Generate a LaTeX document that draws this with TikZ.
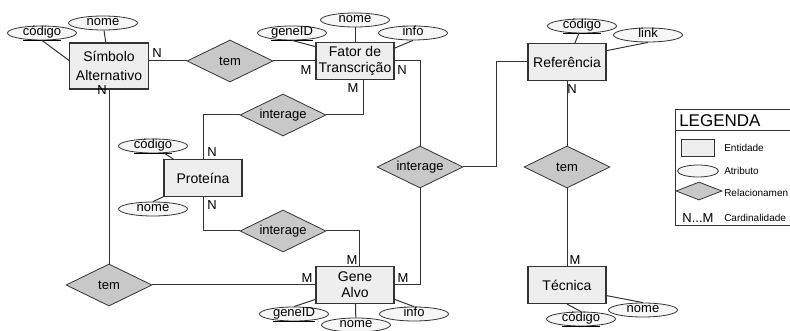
\documentclass[tikz,border=0pt]{standalone}
\usepackage{fontspec}
\setmainfont{Liberation Sans}
\usetikzlibrary{shapes.geometric}

\definecolor{entfill}{HTML}{EEEEEE}
\definecolor{relfill}{HTML}{C8C8C8}
\definecolor{attfill}{HTML}{F6F6F6}
\definecolor{linecol}{HTML}{333333}

\begin{document}
\begin{tikzpicture}[x=0.75pt,y=-0.75pt,
    entity/.style={draw=linecol,fill=entfill,line width=0.9pt,minimum width=58.5pt,
        minimum height=27.75pt,align=center,inner sep=1pt,
        font=\fontsize{10.5}{11.5}\selectfont},
    attr/.style={ellipse,draw=linecol,fill=attfill,line width=0.6pt,minimum width=51.75pt,
        minimum height=10.5pt,inner sep=0pt,text height=5pt,text depth=1.5pt,
        font=\fontsize{9.75}{10}\selectfont},
    rel/.style={diamond,aspect=2,draw=linecol,fill=relfill,line width=0.6pt,
        minimum width=64.5pt,minimum height=31.5pt,inner sep=0pt,
        font=\fontsize{9.75}{10}\selectfont},
    card/.style={inner sep=0pt,font=\fontsize{9.75}{10}\selectfont},
    legtxt/.style={inner sep=0pt,anchor=west,font=\fontsize{7.5}{8}\selectfont},
    conn/.style={draw=linecol,line width=0.75pt}]
\clip (0,0) rectangle (790,331);
\fill[white] (0,0) rectangle (790,331);

% entidades
\node[entity,minimum width=59.25pt,minimum height=34.5pt,
      font=\fontsize{10.5}{14}\selectfont] (simb) at (109,66) {Símbolo\\Alternativo};
\node[entity] (fator) at (355,61) {Fator de\\Transcrição};
\node[entity] (ref) at (567,62) {Referência};
\node[entity] (prot) at (203,178) {Proteína};
\node[entity,font=\fontsize{10.5}{12}\selectfont] (gene) at (355,285) {Gene\\Alvo};
\node[entity] (tec) at (567,285) {Técnica};

% relacionamentos
\node[rel] (temST) at (230,61) {tem};
\node[rel] (intFP) at (283,115) {interage};
\node[rel] (intFG) at (420,167) {interage};
\node[rel] (temR) at (567,167) {tem};
\node[rel] (intPG) at (283,231) {interage};
\node[rel] (temSG) at (109,285) {tem};

% atributos
\node[attr] (cod1) at (42,33) {\underline{código}};
\node[attr] (nome1) at (103,23) {nome};
\node[attr] (gid1) at (292,33) {\underline{geneID}};
\node[attr] (nome2) at (355,20) {nome};
\node[attr] (info1) at (413,33) {info};
\node[attr] (cod2) at (582,26) {\underline{código}};
\node[attr] (link1) at (648,35) {link};
\node[attr] (cod3) at (153,146) {\underline{código}};
\node[attr] (nome3) at (153,209) {nome};
\node[attr] (gid2) at (294,314) {\underline{geneID}};
\node[attr] (nome4) at (356,325) {nome};
\node[attr] (info2) at (414,314) {info};
\node[attr] (cod4) at (581,319) {\underline{código}};
\node[attr] (nome5) at (643,310) {nome};

% ligacoes
\draw[conn] (temST.west) -- (temST.west -| simb.east);
\draw[conn] (temST.east) -- (temST.east -| fator.west);
\draw[conn] (simb.south) -- (temSG.north);
\draw[conn] (temSG.east) -- (temSG.east -| gene.west);
\draw[conn] ([xshift=6pt]fator.south) |- (intFP.east);
\draw[conn] (intFP.west) -| (prot.north);
\draw[conn] (prot.south) |- (intPG.west);
\draw[conn] (intPG.east) -| ([xshift=3pt]gene.north);
\draw[conn] (fator.east) -| (intFG.north);
\draw[conn] (intFG.south) |- (gene.east);
\draw[conn] (intFG.east) -- ++(33,0) |- (ref.west);
\draw[conn] (ref.south) -- (temR.north);
\draw[conn] (temR.south) -- (tec.north);

\draw[conn] (cod1.south) -- (simb.172);
\draw[conn] (nome1) -- (simb);
\draw[conn] (gid1.south) -- (fator.160);
\draw[conn] (nome2) -- (fator);
\draw[conn] (info1.south) -- (fator.18);
\draw[conn] (cod2) -- (ref);
\draw[conn] (link1.south) -- (ref.16);
\draw[conn] (cod3) -- (prot);
\draw[conn] (nome3.north) -- (prot);
\draw[conn] (gid2.north) -- (gene.200);
\draw[conn] (nome4) -- (gene);
\draw[conn] (info2.north) -- (gene.-20);
\draw[conn] (cod4.north) -- (tec.south);
\draw[conn] (nome5.north) -- (tec.-15);

% cardinalidades
\node[card] (c1) at (157,53) {N};
\node[card] (c2) at (102,90) {N};
\node[card] (c3) at (306,70) {M};
\node[card] (c4) at (402,70) {N};
\node[card] (c5) at (353,88) {M};
\node[card] (c6) at (212,152) {N};
\node[card] (c7) at (212,205) {N};
\node[card] (c8) at (352,260) {M};
\node[card] (c9) at (307,278) {M};
\node[card] (c10) at (403,278) {M};
\node[card] (c11) at (572,89) {N};
\node[card] (c12) at (575,260) {M};

% legenda
\draw[linecol,line width=0.75pt] (675,110) rectangle (800,226);
\draw[linecol,line width=0.75pt] (675,131) -- (800,131);
\node[inner sep=0pt,anchor=west,font=\fontsize{12.75}{13}\selectfont] (legtit) at (679,121) {LEGENDA};
\node[entity,minimum width=24.75pt,minimum height=12.75pt] (legent) at (698,148) {};
\node[attr,minimum width=30.75pt,minimum height=9pt,text height=0pt,text depth=0pt] (legatt) at (698,171) {};
\node[rel,minimum width=34.5pt,minimum height=13.5pt] (legrel) at (699,191) {};
\node[card] (legcard) at (698,218) {N...M};
\node[legtxt] (txtent) at (724,148) {Entidade};
\node[legtxt] (txtatt) at (724,171) {Atributo};
\node[legtxt] (txtrel) at (724,193) {Relacionamen};
\node[legtxt] (txtcard) at (724,218) {Cardinalidade};
\end{tikzpicture}
\end{document}
